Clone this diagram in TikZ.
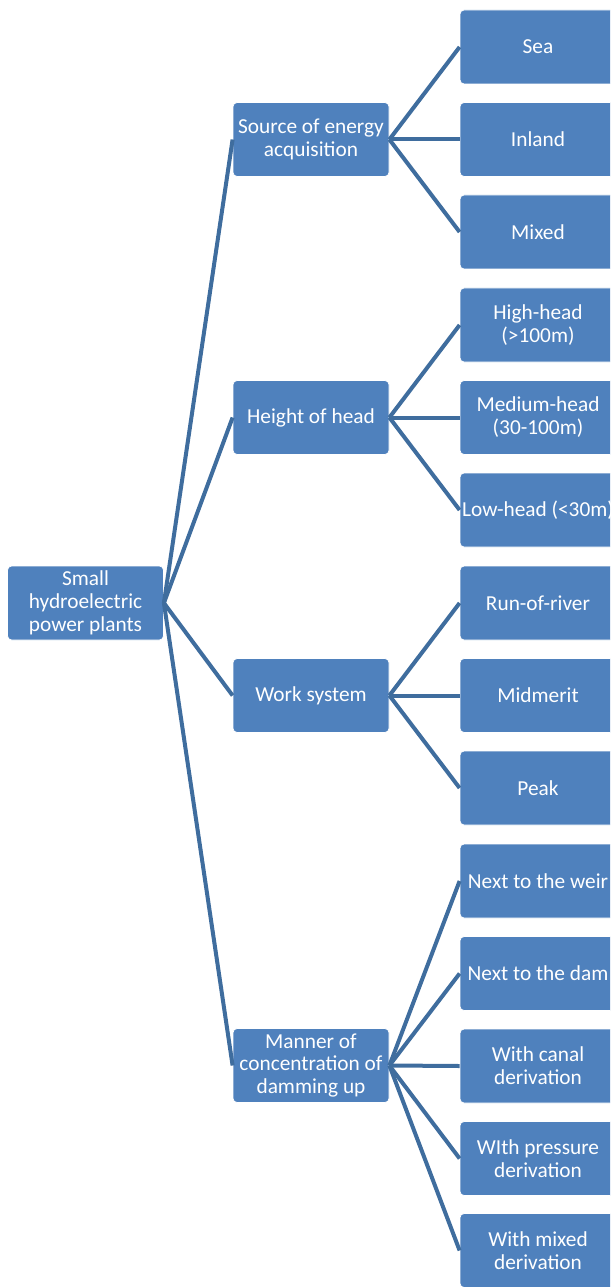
\documentclass[tikz,border=0pt]{standalone}
\usepackage{fontspec}
\setmainfont{Carlito}
\usetikzlibrary{positioning}

\definecolor{boxblue}{RGB}{79,129,189}
\definecolor{lineblue}{RGB}{63,109,158}

\begin{document}
\begin{tikzpicture}[
        %We set the scale and define some styles
        x=0.75pt, y=-0.75pt,
        box/.style={rectangle, rounded corners=3pt, fill=boxblue, draw=white,
            line width=0.6pt, minimum width=117pt, minimum height=55.5pt,
            align=center, text=white, inner sep=1pt,
            font=\fontsize{16}{17.2}\selectfont},
        branch/.style={line width=3pt, color=lineblue},
        every node/.style={color=black,},
]
\useasboundingbox (0,0) rectangle (610,1287);
\clip (0,0) rectangle (610,1287);
% Root of the tree
    \node[box] (root) at (85.5,603) {Small\\hydroelectric\\power plants};
    % first level
    \node[box] (src) at (311,139.5) {Source of energy\\acquisition};
    \node[box] (head) at (311,417.5) {Height of head};
    \node[box] (work) at (311,695.5) {Work system};
    \node[box] (manner) at (311,1065.5) {Manner of\\concentration of\\damming up};
    % second level
    \node[box] (sea) at (538,47) {Sea};
    \node[box] (inland) at (538,139.5) {Inland};
    \node[box] (mixed) at (538,232) {Mixed};
    \node[box] (high) at (538,325) {High-head\\(>100m)};
    \node[box] (medium) at (538,417.5) {Medium-head\\(30-100m)};
    \node[box] (low) at (538,510) {Low-head (<30m)};
    \node[box] (run) at (538,603) {Run-of-river};
    \node[box] (mid) at (538,695.5) {Midmerit};
    \node[box] (peak) at (538,788) {Peak};
    \node[box] (weir) at (538,881) {Next to the weir};
    \node[box] (dam) at (538,973.5) {Next to the dam};
    \node[box] (canal) at (538,1066) {With canal\\derivation};
    \node[box] (pressure) at (538,1158.5) {WIth pressure\\derivation};
    \node[box] (mixder) at (538,1250.5) {With mixed\\derivation};

    % branches are drawn
    \foreach \n in {src,head,work,manner}
        \draw[branch] (root.east) -- (\n.west);
    \foreach \n in {sea,inland,mixed}
        \draw[branch] (src.east) -- (\n.west);
    \foreach \n in {high,medium,low}
        \draw[branch] (head.east) -- (\n.west);
    \foreach \n in {run,mid,peak}
        \draw[branch] (work.east) -- (\n.west);
    \foreach \n in {weir,dam,canal,pressure,mixder}
        \draw[branch] (manner.east) -- (\n.west);
\end{tikzpicture}
\end{document}
